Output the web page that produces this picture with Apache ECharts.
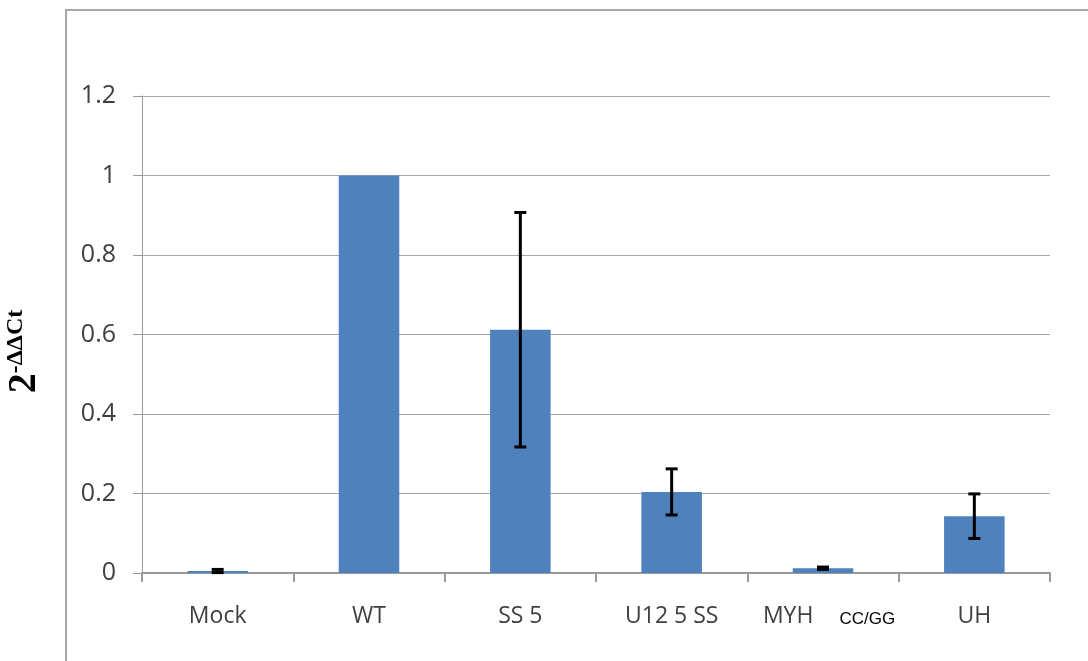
<!DOCTYPE html>
<html><head><meta charset="utf-8">
<script src="https://cdn.jsdelivr.net/npm/echarts@6/dist/echarts.min.js"></script>
<style>html,body{margin:0;padding:0;background:#fff}#c{width:1088px;height:661px}</style>
</head><body><div id="c"></div>
<script>
var categories = ['Mock', 'WT', 'SS 5', 'U12 5 SS', 'MYH', 'UH'];
var values = [0.005, 1.0, 0.612, 0.204, 0.012, 0.143];
var errors = [0.004, 0, 0.295, 0.058, 0.003, 0.056];
var yTicks = [0, 0.2, 0.4, 0.6, 0.8, 1, 1.2];

var chart = echarts.init(document.getElementById('c'));
var font = "'Open Sans', 'Liberation Sans', sans-serif";
var errData = values.map(function (v, i) { return [i, v - errors[i], v + errors[i], errors[i]]; });
chart.setOption({
  animation: false,
  backgroundColor: '#ffffff',
  grid: { left: 142, right: 38, top: 96, bottom: 88, containLabel: false, outerBoundsMode: 'none' },
  graphic: [
    { type: 'rect', shape: { x: 66, y: 10, width: 1100, height: 700 }, style: { fill: 'none', stroke: '#a6a6a6', lineWidth: 2 }, z: -1 }
  ],
  xAxis: {
    type: 'category', data: categories,
    axisLine: { lineStyle: { color: '#999', width: 2 } },
    axisTick: { show: true, interval: 0, length: 9, lineStyle: { color: '#999', width: 2 } },
    axisLabel: { interval: 0, margin: 32, fontSize: 23, color: '#404040', fontFamily: font,
      formatter: function (v) { return v === 'MYH' ? '{m|MYH}{g|CC/GG}' : v; },
      rich: { m: { fontSize: 23, color: '#404040', fontFamily: font, padding: [0, 26, 0, 12] },
              g: { fontSize: 17, color: '#000', fontFamily: "'Liberation Sans', sans-serif", padding: [6, 0, 0, 0] } } }
  },
  yAxis: {
    type: 'value', min: 0, max: 1.2, interval: 0.2,
    name: '{a|2}{b|-ΔΔCt}', nameLocation: 'middle', nameRotate: 90, nameGap: 96,
    nameTextStyle: { padding: [0, 34, 0, 0], rich: {
      a: { fontFamily: "'Liberation Serif', serif", fontWeight: 'bold', fontSize: 40, color: '#000', lineHeight: 42 },
      b: { fontFamily: "'Liberation Serif', serif", fontWeight: 'bold', fontSize: 24, color: '#000', lineHeight: 42, padding: [0, 0, 18, 0] } } },
    axisLine: { show: true, lineStyle: { color: '#999', width: 1 } },
    axisTick: { show: true, length: 9, lineStyle: { color: '#999' } },
    splitLine: { lineStyle: { color: '#a6a6a6', width: 1 } },
    axisLabel: { margin: 26, fontSize: 25, color: '#404040', fontFamily: font,
      formatter: function (v) { return String(Math.round(v * 10) / 10); } }
  },
  series: [
    { type: 'bar', data: values, barWidth: '40%', itemStyle: { color: '#4f81bd' } },
    { type: 'custom', data: errData, z: 10,
      renderItem: function (params, api) {
        if (api.value(3) <= 0) return null;
        var x = api.value(0);
        var lo = api.coord([x, api.value(1)]);
        var hi = api.coord([x, api.value(2)]);
        var hw = 6;
        var st = { stroke: '#000', lineWidth: 3 };
        return { type: 'group', children: [
          { type: 'line', shape: { x1: lo[0], y1: lo[1], x2: hi[0], y2: hi[1] }, style: st },
          { type: 'line', shape: { x1: lo[0] - hw, y1: lo[1], x2: lo[0] + hw, y2: lo[1] }, style: st },
          { type: 'line', shape: { x1: hi[0] - hw, y1: hi[1], x2: hi[0] + hw, y2: hi[1] }, style: st }
        ] };
      }
    }
  ]
});
</script></body></html>
